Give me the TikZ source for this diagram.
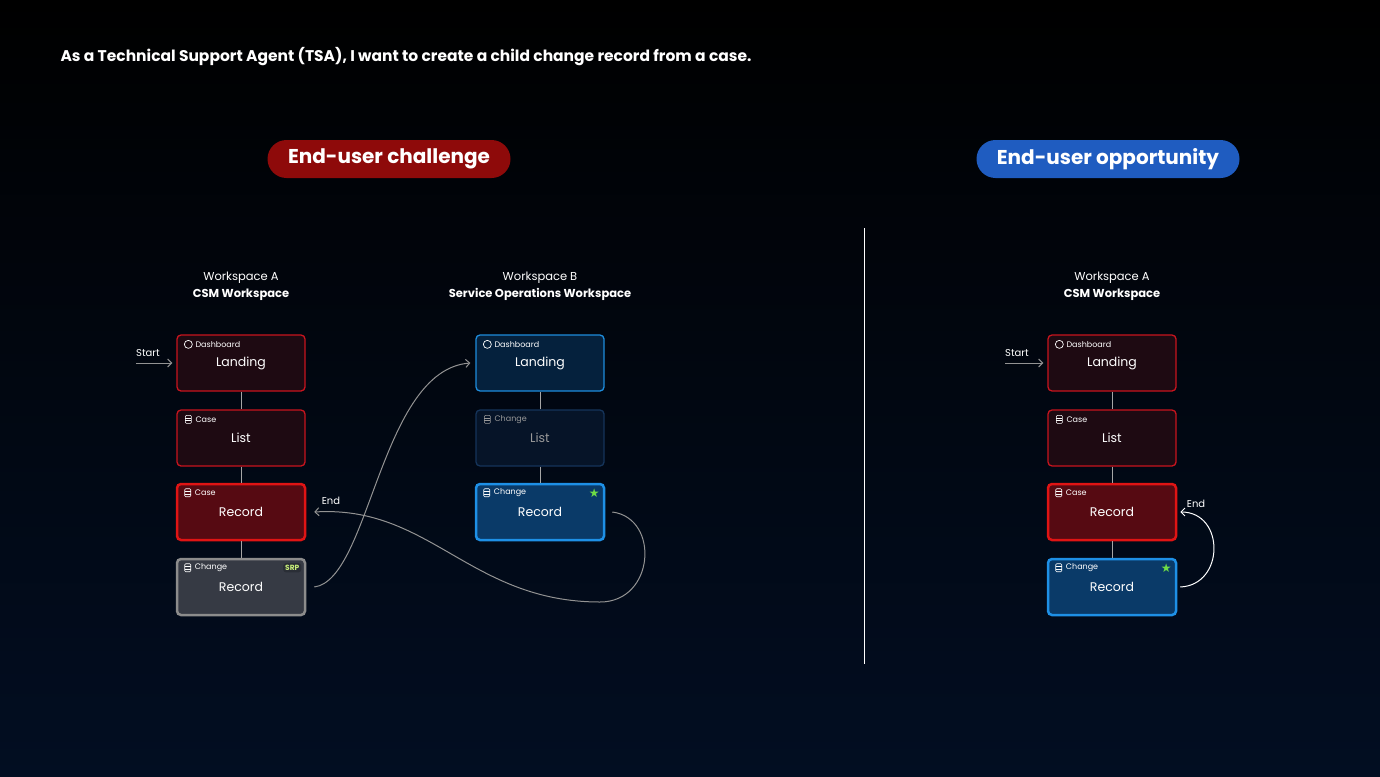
\documentclass[tikz,border=0pt]{standalone}
\usepackage{fontspec}
\setmainfont{Poppins}
\newfontfamily\symf{DejaVu Sans}
\usetikzlibrary{arrows.meta}
\definecolor{bgtop}{HTML}{000000}
\definecolor{bgbot}{HTML}{020E22}
\definecolor{rfill}{HTML}{1E0A12}
\definecolor{rdraw}{HTML}{C8141E}
\definecolor{rsfill}{HTML}{560A12}
\definecolor{rsdraw}{HTML}{E01414}
\definecolor{gfill}{HTML}{363A44}
\definecolor{gdraw}{HTML}{8C8C8C}
\definecolor{bfill}{HTML}{05213D}
\definecolor{bdraw}{HTML}{1E8CDC}
\definecolor{dfill}{HTML}{061428}
\definecolor{ddraw}{HTML}{15345A}
\definecolor{bsfill}{HTML}{0A3A68}
\definecolor{bsdraw}{HTML}{1E90E6}
\definecolor{pred}{HTML}{8E0A0A}
\definecolor{pblue}{HTML}{1F5CC0}
\definecolor{star}{HTML}{6EDC46}
\definecolor{srpt}{HTML}{C8F07A}
\definecolor{srpb}{HTML}{2A2E36}
\begin{document}
\begin{tikzpicture}[x=1pt,y=-1pt,
  box/.style={rounded corners=4pt,minimum width=128pt,minimum height=56pt,line width=1.3pt,text=white,font=\fontsize{12.5}{12.5}\selectfont,inner sep=0pt},
  redbox/.style={box,fill=rfill,draw=rdraw},
  redsel/.style={box,fill=rsfill,draw=rsdraw,line width=2.5pt},
  greybox/.style={box,fill=gfill,draw=gdraw,line width=2.5pt},
  bluebox/.style={box,fill=bfill,draw=bdraw},
  dimbox/.style={box,fill=dfill,draw=ddraw,text=gray!80},
  bluesel/.style={box,fill=bsfill,draw=bsdraw,line width=2.5pt},
  tag/.style={font=\fontsize{8}{8}\selectfont,anchor=west,inner sep=0pt},
  link/.style={draw=gray!70,line width=1pt},
  flow/.style={draw=gray!85,line width=1pt,-{Straight Barb[length=4pt,width=8pt]}},
  hdr/.style={text=white,align=center,font=\fontsize{11.5}{17}\selectfont}]
\shade[top color=bgtop,bottom color=bgbot] (0,0) rectangle (1380,776);
\useasboundingbox (0,0) rectangle (1380,776);
\node[anchor=west,text=white,font=\bfseries\fontsize{15.5}{15.5}\selectfont] (title) at (57,57) {As a Technical Support Agent (TSA), I want to create a child change record from a case.};
\node[fill=pred,text=white,rounded corners=19pt,minimum width=243pt,minimum height=38pt,font=\bfseries\fontsize{20}{20}\selectfont] (p1) at (389,159) {End-user challenge};
\node[fill=pblue,text=white,rounded corners=19pt,minimum width=263pt,minimum height=38pt,font=\bfseries\fontsize{20}{20}\selectfont] (p2) at (1108,159) {End-user opportunity};
\coordinate (d1) at (864,228); \coordinate (d2) at (864,664);
\draw[white,line width=1pt] (d1) -- (d2);
% headers
\node[hdr] (hA) at (241,286) {Workspace A\\\textbf{CSM Workspace}};
\node[hdr] (hB) at (540,286) {Workspace B\\\textbf{Service Operations Workspace}};
\node[hdr] (hC) at (1112,286) {Workspace A\\\textbf{CSM Workspace}};
% Column A
\node[redbox] (a1) at (241,363) {Landing};
\node[redbox] (a2) at (241,438) {List};
\node[redsel] (a3) at (241,512) {Record};
\node[greybox] (a4) at (241,587) {Record};
\foreach \n/\t/\c in {a1/Dashboard/white,a2/Case/white,a3/Case/white,a4/Change/white}{
  \node[tag,text=\c] at ([xshift=19pt,yshift=-10pt]\n.north west) {\t};
}
\draw[white,line width=0.7pt] ([xshift=12pt,yshift=-10pt]a1.north west) circle (4pt);
\foreach \n in {a2,a3,a4}{ \draw[white,line width=0.6pt,rounded corners=1pt] ([xshift=9pt,yshift=-14pt]\n.north west) rectangle ([xshift=15pt,yshift=-6pt]\n.north west);
 \draw[white,line width=0.5pt] ([xshift=9pt,yshift=-11.3pt]\n.north west) -- ([xshift=15pt,yshift=-11.3pt]\n.north west) ([xshift=9pt,yshift=-8.7pt]\n.north west) -- ([xshift=15pt,yshift=-8.7pt]\n.north west);}
\node[fill=srpb,rounded corners=3pt,text=srpt,font=\bfseries\fontsize{7.5}{7.5}\selectfont,inner sep=2pt] (srp) at ([xshift=-14pt,yshift=-10pt]a4.north east) {SRP};
\draw[link] (a1) -- (a2); \draw[link] (a2) -- (a3); \draw[link] (a3) -- (a4);
% Column B
\node[bluebox] (b1) at (540,363) {Landing};
\node[dimbox] (b2) at (540,438) {List};
\node[bluesel] (b3) at (540,512) {Record};
\node[tag,text=white] at ([xshift=19pt,yshift=-10pt]b1.north west) {Dashboard};
\node[tag,text=gray!80] at ([xshift=19pt,yshift=-10pt]b2.north west) {Change};
\node[tag,text=white] at ([xshift=19pt,yshift=-10pt]b3.north west) {Change};
\draw[white,line width=0.7pt] ([xshift=12pt,yshift=-10pt]b1.north west) circle (4pt);
\foreach \n/\c in {b2/gray!80,b3/white}{ \draw[\c,line width=0.6pt,rounded corners=1pt] ([xshift=9pt,yshift=-14pt]\n.north west) rectangle ([xshift=15pt,yshift=-6pt]\n.north west);
 \draw[\c,line width=0.5pt] ([xshift=9pt,yshift=-11.3pt]\n.north west) -- ([xshift=15pt,yshift=-11.3pt]\n.north west) ([xshift=9pt,yshift=-8.7pt]\n.north west) -- ([xshift=15pt,yshift=-8.7pt]\n.north west);}
\node[text=star,font=\symf\fontsize{12}{12}\selectfont,inner sep=0pt] (s1) at ([xshift=-11pt,yshift=-10pt]b3.north east) {★};
\draw[link] (b1) -- (b2); \draw[link] (b2) -- (b3);
% Column C
\node[redbox] (c1) at (1112,363) {Landing};
\node[redbox] (c2) at (1112,438) {List};
\node[redsel] (c3) at (1112,512) {Record};
\node[bluesel] (c4) at (1112,587) {Record};
\foreach \n/\t in {c1/Dashboard,c2/Case,c3/Case,c4/Change}{
  \node[tag,text=white] at ([xshift=19pt,yshift=-10pt]\n.north west) {\t};
}
\draw[white,line width=0.7pt] ([xshift=12pt,yshift=-10pt]c1.north west) circle (4pt);
\foreach \n in {c2,c3,c4}{ \draw[white,line width=0.6pt,rounded corners=1pt] ([xshift=9pt,yshift=-14pt]\n.north west) rectangle ([xshift=15pt,yshift=-6pt]\n.north west);
 \draw[white,line width=0.5pt] ([xshift=9pt,yshift=-11.3pt]\n.north west) -- ([xshift=15pt,yshift=-11.3pt]\n.north west) ([xshift=9pt,yshift=-8.7pt]\n.north west) -- ([xshift=15pt,yshift=-8.7pt]\n.north west);}
\node[text=star,font=\symf\fontsize{12}{12}\selectfont,inner sep=0pt] (s2) at ([xshift=-11pt,yshift=-10pt]c4.north east) {★};
\draw[link] (c1) -- (c2); \draw[link] (c2) -- (c3); \draw[link] (c3) -- (c4);
% Start / End
\coordinate (sA) at (136,363); \coordinate (sC) at (1005,363);
\node[text=white,font=\fontsize{10}{10}\selectfont,anchor=west,inner sep=0pt] (stA) at (136,353) {Start};
\node[text=white,font=\fontsize{10}{10}\selectfont,anchor=west,inner sep=0pt] (stC) at (1005,353) {Start};
\draw[flow] (sA) -- ([xshift=-4pt]a1.west);
\draw[flow] (sC) -- ([xshift=-4pt]c1.west);
\node[text=white,font=\fontsize{10}{10}\selectfont,inner sep=0pt] (eA) at (331,501) {End};
\node[text=white,font=\fontsize{10}{10}\selectfont,inner sep=0pt] (eC) at (1196,504) {End};
% flows
\draw[flow] ([xshift=8pt]a4.east) .. controls (370,580) and (380,370) .. ([xshift=-5pt]b1.west);
\draw[flow] ([xshift=7pt]b3.east) .. controls (660,518) and (655,602) .. (600,602) .. controls (470,602) and (430,505) .. ([xshift=8pt]a3.east);
\draw[draw=white,line width=1pt,-{Straight Barb[length=4pt,width=8pt]}] ([xshift=3pt]c4.east) .. controls (1225,585) and (1225,512) .. ([xshift=3pt]c3.east);
\end{tikzpicture}
\end{document}
